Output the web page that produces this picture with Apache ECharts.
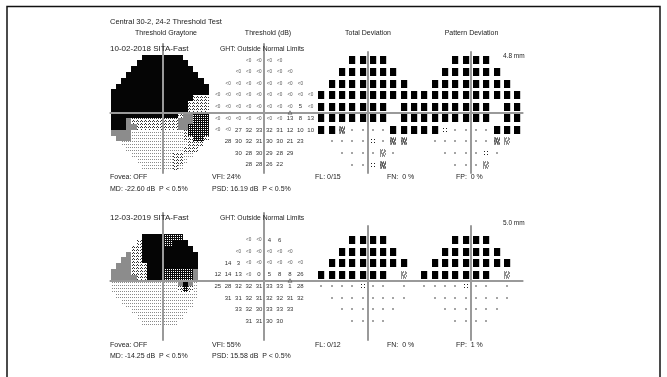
<!DOCTYPE html>
<html>
<head>
<meta charset="utf-8">
<script src="https://cdn.jsdelivr.net/npm/echarts@6/dist/echarts.min.js"></script>
<style>
  html, body { margin: 0; padding: 0; background: #fff; }
  #chart { width: 667px; height: 377px; }
</style>
</head>
<body>
<div id="chart"></div>
<script>
// ---------- test point layouts (degrees: [row y, column xs]) ----------
const rows302 = [
  [27, [-9, -3, 3, 9]],
  [21, [-15, -9, -3, 3, 9, 15]],
  [15, [-21, -15, -9, -3, 3, 9, 15, 21]],
  [9, [-27, -21, -15, -9, -3, 3, 9, 15, 21, 27]],
  [3, [-27, -21, -15, -9, -3, 3, 9, 15, 21, 27]],
  [-3, [-27, -21, -15, -9, -3, 3, 9, 15, 21, 27]],
  [-9, [-27, -21, -15, -9, -3, 3, 9, 15, 21, 27]],
  [-15, [-21, -15, -9, -3, 3, 9, 15, 21]],
  [-21, [-15, -9, -3, 3, 9, 15]],
  [-27, [-9, -3, 3, 9]]
];
const rows242 = [
  [21, [-9, -3, 3, 9]],
  [15, [-15, -9, -3, 3, 9, 15]],
  [9, [-21, -15, -9, -3, 3, 9, 15, 21]],
  [3, [-27, -21, -15, -9, -3, 3, 9, 15, 21]],
  [-3, [-27, -21, -15, -9, -3, 3, 9, 15, 21]],
  [-9, [-21, -15, -9, -3, 3, 9, 15, 21]],
  [-15, [-15, -9, -3, 3, 9, 15]],
  [-21, [-9, -3, 3, 9]]
];

// ---------- threshold values (dB) ----------
const threshold2018 = [
  ['<0', '<0', '<0', '<0'],
  ['<0', '<0', '<0', '<0', '<0', '<0'],
  ['<0', '<0', '<0', '<0', '<0', '<0', '<0', '<0'],
  ['<0', '<0', '<0', '<0', '<0', '<0', '<0', '<0', '<0', '<0'],
  ['<0', '<0', '<0', '<0', '<0', '<0', '<0', '<0', '5', '<0'],
  ['<0', '<0', '<0', '<0', '<0', '<0', '<0', '13', '8', '13'],
  ['<0', '<0', '27', '32', '33', '32', '31', '12', '10', '10'],
  ['28', '30', '32', '31', '30', '30', '21', '23'],
  ['30', '28', '30', '29', '28', '29'],
  ['28', '28', '26', '22']
];
const threshold2019 = [
  ['<0', '<0', '4', '6'],
  ['<0', '<0', '<0', '<0', '<0', '<0'],
  ['14', '3', '<0', '<0', '<0', '<0', '<0', '<0'],
  ['12', '14', '13', '<0', '0', '5', '8', '8', '26'],
  ['25', '28', '32', '32', '31', '33', '33', '1', '28'],
  ['31', '31', '32', '31', '32', '32', '31', '32'],
  ['33', '32', '30', '33', '33', '33'],
  ['31', '31', '30', '30']
];

// ---------- probability maps ----------
// K: P<0.5%  1: P<1%  2: P<2%  5: P<5%  .: within normal  -: blind spot
const totalDev2018 = ['KKKK', 'KKKKKK', 'KKKKKKKK', 'KKKKKKKKKK', 'KKKKKKK-KK',
  'KKKKKKK-KK', 'KK1....KKK', '....5.11', '....2.', '..51'];
const patternDev2018 = ['KKKK', 'KKKKKK', 'KKKKKKKK', 'KKKKKKKKKK', 'KKKKKKK-KK',
  'KKKKKKK-KK', 'KK5....KKK', '......12', '....5.', '...2'];
const totalDev2019 = ['KKKK', 'KKKKKK', 'KKKKKKKK', 'KKKKKKK-2', '....5..-.',
  '........', '......', '....'];
const patternDev2019 = ['KKKK', 'KKKKKK', 'KKKKKKKK', 'KKKKKKK-2', '....5..-.',
  '........', '......', '....'];

// ---------- graytone levels, 3-degree cells, top row = +30..+27 deg ----------
// K black, C dark checker, G gray, H hatched, D light dots, '.' outside
const gray2018 = [
  '......KKKKKKKK......',
  '.....KKKKKKKKKK.....',
  '....KKKKKKKKKKKK....',
  '...KKKKKKKKKKKKKK...',
  '..KKKKKKKKKKKKKKKK..',
  '.KKKKKKKKKKKKKKKKKK.',
  'KKKKKKKKKKKKKKKKKKK.',
  'KKKKKKKKKKKKKKKKHHH.',
  'KKKKKKKKKKKKKKKHHHH.',
  'KKKKKKKKKKKKKKKHHHH.',
  'KKKKKKKKKKKKKHGGCCC.',
  'KKKGHHHHHHHHHGGGCCC.',
  'KKKGGHHHHHHHHGGCCCC.',
  'GGGGDDDDDDDDDDHCCCC.',
  '.GGGDDDDDDDDDDHHCCH.',
  '..DDDDDDDDDDDDDHHH..',
  '...DDDDDDDDDDDHHH...',
  '....DDDDDDDDHHDD....',
  '.....DDDDDDDHHD.....',
  '......DDDDDDHD......'
];
const gray2019 = [
  '....................',
  '....................',
  '......KKKKCCCC......',
  '.....HKKKKCCKKK.....',
  '....HHKKKKKKKKKK....',
  '...GHHKKKKKKKKKKK...',
  '..GGHHKKKKKKKKKKK...',
  '.GGGHHHKKKKKKKKKK...',
  'GGGGHHHKKKCCCCCCG...',
  'GGGGGHHKKKCCCCCCG...',
  'DDDDDDDDDDDDDGKGD...',
  'DDDDDDDDDDDDDHCHD...',
  '.DDDDDDDDDDDDDDDD...',
  '..DDDDDDDDDDDDDD....',
  '...DDDDDDDDDDDDD....',
  '....DDDDDDDDDDD.....',
  '.....DDDDDDDDD......',
  '......DDDDDDD.......',
  '....................',
  '....................'
];

// ---------- layout ----------
const SX = 1.72, SY = 1.93;          // px per degree
const XR = 30.2;                      // half width of every panel (deg)
const panelCx = [162.3, 264.2, 367.7, 470.7];
const tests = [
  { cy: 112.5, topMain: 44, topDev: 52, bottom: 173 },
  { cy: 280.5, topMain: 213, topDev: 226, bottom: 340 }
];
const FONT = '"Liberation Sans", Arial, sans-serif';

// ---------- fills for graytone ----------
function tile(w, h, bg, fg, pts) {
  const cv = document.createElement('canvas');
  cv.width = w; cv.height = h;
  const ctx = cv.getContext('2d');
  ctx.fillStyle = bg; ctx.fillRect(0, 0, w, h);
  ctx.fillStyle = fg;
  pts.forEach(p => ctx.fillRect(p[0], p[1], 1, 1));
  return { image: cv, repeat: 'repeat' };
}
const fills = {
  K: '#050505',
  C: tile(2, 2, '#0a0a0a', '#ffffff', [[1, 1]]),
  G: '#8c8c8c',
  H: tile(4, 3, '#ffffff', '#333333', [[1, 0], [0, 1], [2, 1]]),
  D: tile(2, 3, '#ffffff', '#8a8a8a', [[0, 0]])
};

// ---------- small bitmaps for probability symbols ----------
const glyphs = {
  '5': ['x..x', '....', '....', 'x..x'],
  '2': ['x.x.x.', '.x...x', 'x...x.', '.x.x..', 'x.x..x', '...x..', 'x.x.x.'],
  '1': ['xx.x.x', '.xxx.x', 'x.x.xx', 'xxx.x.', 'x.xxx.', '.x.x.x', 'xx.xxx']
};

// ---------- data builders ----------
function pointsFrom(rows, values) {
  const out = [];
  rows.forEach((r, i) => {
    r[1].forEach((x, j) => {
      const v = values[i][j];
      if (v !== '-') out.push([x, r[0], v]);
    });
  });
  return out;
}
function grayCells(levels) {
  const out = [];
  levels.forEach((row, r) => {
    for (let c = 0; c < row.length; c++) {
      if (row[c] !== '.') out.push([-28.5 + 3 * c, 28.5 - 3 * r, row[c]]);
    }
  });
  return out;
}

const grids = [], xAxes = [], yAxes = [], series = [];
function addPanel(testIdx, panelIdx) {
  const t = tests[testIdx];
  const top = panelIdx < 2 ? t.topMain : t.topDev;
  const ymax = (t.cy - top) / SY;
  const ymin = -(t.bottom - t.cy) / SY;
  grids.push({
    left: panelCx[panelIdx] - XR * SX, width: 2 * XR * SX,
    top: top, height: t.bottom - top
  });
  const gi = grids.length - 1;
  const line = { show: true, onZero: true, lineStyle: { color: '#9a9a9a', width: 2 } };
  xAxes.push({ type: 'value', gridIndex: gi, min: -XR, max: XR, z: 5,
    axisLine: line, axisTick: { show: false }, axisLabel: { show: false }, splitLine: { show: false } });
  yAxes.push({ type: 'value', gridIndex: gi, min: ymin, max: ymax, z: 5,
    axisLine: line, axisTick: { show: false }, axisLabel: { show: false }, splitLine: { show: false } });
  return gi;
}

function graySeries(gi, cells) {
  return {
    type: 'custom', xAxisIndex: gi, yAxisIndex: gi, z: 1, silent: true,
    data: cells.map(c => [c[0], c[1]]),
    renderItem(params, api) {
      const c = cells[params.dataIndex];
      const a = api.coord([c[0] - 1.5, c[1] + 1.5]);
      const b = api.coord([c[0] + 1.5, c[1] - 1.5]);
      const x0 = Math.round(a[0]), y0 = Math.round(a[1]);
      const x1 = Math.round(b[0]), y1 = Math.round(b[1]);
      return { type: 'rect', shape: { x: x0, y: y0, width: x1 - x0, height: y1 - y0 },
        style: { fill: fills[c[2]] } };
    }
  };
}

function thresholdSeries(gi, pts) {
  return {
    type: 'custom', xAxisIndex: gi, yAxisIndex: gi, z: 6, silent: true,
    data: pts.map(p => [p[0], p[1]]),
    renderItem(params, api) {
      const p = pts[params.dataIndex];
      const c = api.coord([p[0], p[1]]);
      const small = p[2] === '<0';
      return { type: 'text', x: c[0], y: c[1],
        style: { text: p[2], fontSize: small ? 4.6 : 6, fontFamily: FONT,
          fill: small ? '#555' : '#333',
          align: 'center', verticalAlign: 'middle',
          textAlign: 'center', textVerticalAlign: 'middle' } };
    }
  };
}

function deviationSeries(gi, pts) {
  return {
    type: 'custom', xAxisIndex: gi, yAxisIndex: gi, z: 6, silent: true,
    data: pts.map(p => [p[0], p[1]]),
    renderItem(params, api) {
      const p = pts[params.dataIndex];
      const c = api.coord([p[0], p[1]]);
      const cx = Math.round(c[0]), cy = Math.round(c[1]);
      if (p[2] === 'K') {
        return { type: 'rect', shape: { x: cx - 3, y: cy - 4, width: 6.2, height: 8 },
          style: { fill: '#000' } };
      }
      if (p[2] === '.') {
        return { type: 'rect', shape: { x: cx - 0.7, y: cy - 0.7, width: 1.4, height: 1.4 },
          style: { fill: '#555' } };
      }
      const g = glyphs[p[2]];
      const h = g.length, w = g[0].length;
      const children = [];
      for (let r = 0; r < h; r++) {
        for (let k = 0; k < w; k++) {
          if (g[r][k] === 'x') {
            children.push({ type: 'rect',
              shape: { x: cx - w / 2 + k, y: cy - h / 2 + r, width: 1, height: 1 },
              style: { fill: '#222' } });
          }
        }
      }
      return { type: 'group', children };
    }
  };
}

// build both tests
const testDefs = [
  { rows: rows302, thr: threshold2018, tot: totalDev2018, pat: patternDev2018, gray: gray2018 },
  { rows: rows242, thr: threshold2019, tot: totalDev2019, pat: patternDev2019, gray: gray2019 }
];
testDefs.forEach((d, ti) => {
  const g0 = addPanel(ti, 0);
  series.push(graySeries(g0, grayCells(d.gray)));
  const g1 = addPanel(ti, 1);
  series.push(thresholdSeries(g1, pointsFrom(d.rows, d.thr)));
  series.push({
    type: 'scatter', xAxisIndex: g1, yAxisIndex: g1, z: 6, silent: true,
    symbol: 'triangle', symbolSize: [4, 3.5],
    itemStyle: { color: 'rgba(0,0,0,0)', borderColor: '#555', borderWidth: 0.8 },
    data: [[15, 0]]
  });
  const g2 = addPanel(ti, 2);
  series.push(deviationSeries(g2, pointsFrom(d.rows, d.tot)));
  const g3 = addPanel(ti, 3);
  series.push(deviationSeries(g3, pointsFrom(d.rows, d.pat)));
});

// ---------- printed texts ----------
const texts = [
  ['Central 30-2, 24-2 Threshold Test', 110, 21.5, 7.5, 'left'],
  ['Threshold Graytone', 166, 33.3, 7, 'center'],
  ['Threshold (dB)', 268, 33.3, 7, 'center'],
  ['Total Deviation', 368, 33.3, 7, 'center'],
  ['Pattern Deviation', 471.5, 33.3, 7, 'center'],
  ['10-02-2018 SITA-Fast', 110, 49, 8, 'left'],
  ['GHT: Outside Normal Limits', 220, 49, 6.8, 'left'],
  ['4.8 mm', 503, 56, 6.5, 'left'],
  ['Fovea: OFF', 110, 177, 7, 'left'],
  ['VFI: 24%', 212, 177, 7, 'left'],
  ['FL: 0/15', 315, 177, 7, 'left'],
  ['FN:  0 %', 387, 177, 7, 'left'],
  ['FP:  0 %', 456, 177, 7, 'left'],
  ['MD: -22.60 dB  P < 0.5%', 110, 189, 7, 'left'],
  ['PSD: 16.19 dB  P < 0.5%', 212, 189, 7, 'left'],
  ['12-03-2019 SITA-Fast', 110, 218, 8, 'left'],
  ['GHT: Outside Normal Limits', 220, 218, 6.8, 'left'],
  ['5.0 mm', 503, 223, 6.5, 'left'],
  ['Fovea: OFF', 110, 345, 7, 'left'],
  ['VFI: 55%', 212, 345, 7, 'left'],
  ['FL: 0/12', 315, 345, 7, 'left'],
  ['FN:  0 %', 387, 345, 7, 'left'],
  ['FP:  1 %', 456, 345, 7, 'left'],
  ['MD: -14.25 dB  P < 0.5%', 110, 356.5, 7, 'left'],
  ['PSD: 15.58 dB  P < 0.5%', 212, 356.5, 7, 'left']
];
const graphic = texts.map(t => ({
  type: 'text', x: t[1], y: t[2], z: 10, silent: true,
  style: { text: t[0], fontSize: t[3], fontFamily: FONT, fill: '#222',
    align: t[4], verticalAlign: 'middle', textAlign: t[4], textVerticalAlign: 'middle' }
}));
graphic.push({
  type: 'rect', z: 10, silent: true,
  shape: { x: 7, y: 6.5, width: 653, height: 400 },
  style: { fill: 'none', stroke: '#111', lineWidth: 1.5 }
});

const chart = echarts.init(document.getElementById('chart'), null, { renderer: 'canvas' });
chart.setOption({
  animation: false,
  backgroundColor: '#ffffff',
  grid: grids,
  xAxis: xAxes,
  yAxis: yAxes,
  series: series,
  graphic: graphic
});
</script>
</body>
</html>
